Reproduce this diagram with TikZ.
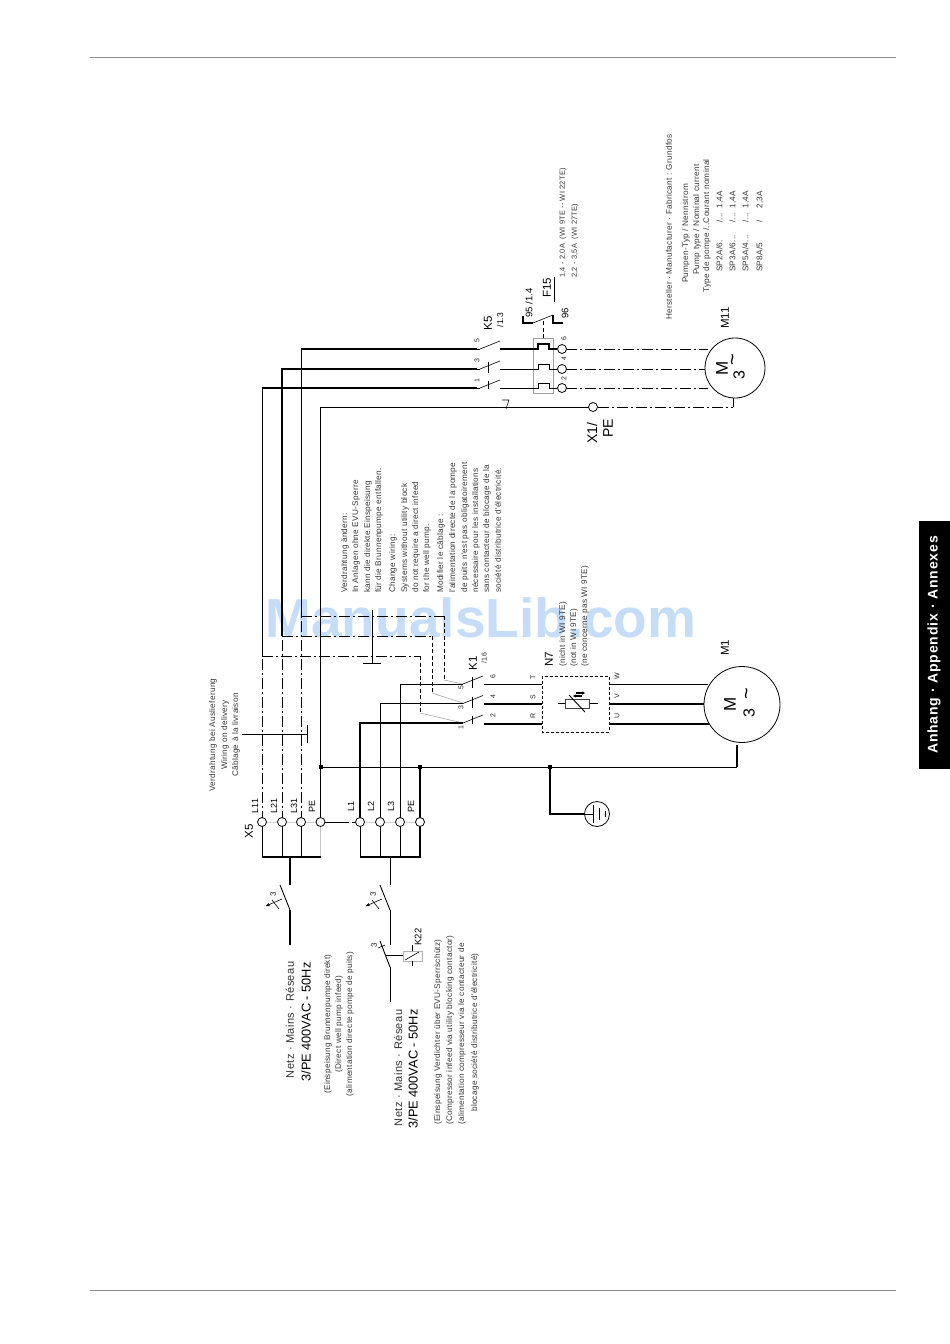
\documentclass[tikz,border=0pt]{standalone}
\usepackage{fontspec}
\setmainfont{Liberation Sans}
\newfontfamily\smf[LetterSpace=3.5]{Liberation Sans}
\newfontfamily\tabf[LetterSpace=6,BoldFont={Liberation Sans Bold}]{Liberation Sans}
\newfontfamily\netf[LetterSpace=4]{Liberation Sans}
\usetikzlibrary{calc,arrows.meta}
\definecolor{txtc}{gray}{0.22}
\definecolor{wm}{RGB}{198,221,248}
\definecolor{rulec}{gray}{0.55}
\tikzset{
  wire/.style={line width=0.9pt,black,line cap=butt},
  heavy/.style={line width=1.7pt,black,line cap=butt},
  fine/.style={line width=0.6pt,black},
  dd/.style={line width=0.8pt,black,dash pattern=on 11pt off 3pt on 2pt off 3pt},
  dsh/.style={line width=0.9pt,black,dash pattern=on 4pt off 2.5pt},
  lead/.style={line width=0.6pt,gray!70},
  term/.style={circle,draw=black,line width=0.8pt,fill=white,minimum size=9pt,inner sep=0pt},
  motor/.style={circle,draw=black,line width=0.8pt,fill=white,inner sep=0pt},
  jn/.style={rectangle,fill=black,minimum size=4.5pt,inner sep=0pt},
  sm/.style={rotate=90,anchor=west,inner sep=0pt,text=txtc,font=\smf\fontsize{8.2}{9}\selectfont},
  fnote/.style={sm,font=\smf\fontsize{7.4}{9}\selectfont},
  smc/.style={rotate=90,anchor=center,inner sep=0pt,text=txtc,font=\smf\fontsize{8.2}{9}\selectfont},
  tiny/.style={rotate=90,anchor=center,inner sep=0pt,text=black!85,font=\fontsize{7}{8}\selectfont},
  lbl/.style={rotate=90,anchor=center,inner sep=0pt,font=\fontsize{11.5}{13}\selectfont},
  big/.style={rotate=90,anchor=center,inner sep=0pt,font=\fontsize{12.8}{15}\selectfont},
  netz/.style={rotate=90,anchor=center,inner sep=0pt,text=black!80,font=\netf\fontsize{11}{13}\selectfont},
  mtxt/.style={rotate=90,anchor=center,inner sep=0pt,font=\fontsize{17}{19}\selectfont},
}
\begin{document}
\begin{tikzpicture}[x=1pt,y=-1pt]
\useasboundingbox (0,0) rectangle (950,1344);
\fill[white] (0,0) rectangle (950,1344);
% page furniture
\draw[rulec,line width=1pt] (90,57) -- (896,57);
\draw[rulec,line width=1pt] (90,1290) -- (896,1290);
\fill[black] (919,521) rectangle (950,769);
\node[rotate=90,anchor=center,inner sep=0pt,text=white,font=\tabf\bfseries\fontsize{14}{16}\selectfont] (tab) at (934,645) {Anhang · Appendix · Annexes};
% watermark
\node[inner sep=0pt,text=wm,font=\bfseries\fontsize{55}{58}\selectfont] (wmk) at (481,618) {ManualsLib.com};

% terminals (coordinates first, circles drawn last)
\foreach \n/\x in {a/262,b/282,c/301,d/320.5,e/360,f/380,g/400,h/420}{
  \coordinate (T\n) at (\x,822);
}
% faint link across terminals
\draw[gray!35,line width=0.7pt] (Ta) -- (Td) (Te) -- (Th);
\draw[gray!45,line width=1.1pt] (Td) -- (320.5,857);
% busbars
\draw[heavy,line width=2.4pt] (261.5,857) -- (321,857);
\draw[heavy,line width=2.4pt] (359.5,857) -- (421,857);
\foreach \n in {a,b,c,e,f,g}{\draw[wire] (T\n) -- ($(T\n)+(0,35)$);}
\draw[heavy] (Th) -- (420,857);
% mains switches
\coordinate (B1) at (290,857);
\coordinate (B2) at (390,857);
\draw[heavy] (B1) -- (290,885);
\draw[wire] (B2) -- (390,885);
\draw[wire] (280,885) -- (290,910);
\draw[wire] (380,885) -- (390,910);
\draw[heavy] (290,910) -- (290,945);
\draw[wire] (390,910) -- (390,945);
\draw[wire] (380,941) -- (390,967);
\draw[wire] (390,967) -- (390,1002);
\foreach \x in {0,100}{
  \begin{scope}[xshift=\x pt]
  \draw[fine,-{Stealth[length=4pt,width=3.5pt]}] (282,899) -- (266,906);
  \draw[fine] (272,900) -- (279,909);
  \node[tiny,font=\fontsize{8}{9}\selectfont] at (273,894) {3};
  \end{scope}
}
\node[tiny,font=\fontsize{8}{9}\selectfont] (s3) at (374,945) {3};
\draw[fine] (378,948) -- (385,945);
\draw[fine] (385,955) -- (403,955);
\node[draw=gray!60,fill=white,line width=0.8pt,minimum width=19pt,minimum height=10pt,inner sep=0pt] (coil) at (412.5,956) {};
\draw[fine] (405,960) -- (419,952);
\draw[fine] (412.5,951) -- (412.5,945);
\draw[fine] (412.5,961) -- (412.5,966);
\node[rotate=90,inner sep=0pt,font=\fontsize{9.5}{11}\selectfont] (k22) at (418,937) {K22};

% supply verticals to K5 / K1
\coordinate (Ka) at (477,388);\coordinate (Kb) at (477,369);\coordinate (Kc) at (477,349);\coordinate (Kd) at (502,407);
\draw[wire] (262,656) -- (262,388);
\draw[heavy] (262,388) -- (Ka);
\draw[heavy] (282,636) -- (282,369) -- (Kb);
\draw[wire] (301,616) -- (301,349);
\draw[heavy] (301,349) -- (Kc);
\draw[wire] (320.5,767) -- (320.5,407) -- (Kd);
% delivery-wiring dash-dot
\draw[dd] (Ta) -- (262,656);
\draw[dd] (Tb) -- (282,636);
\draw[dd] (Tc) -- (301,616);
\draw[dd] (262,656) -- (420,656);
\draw[dd] (282,636) -- (432,636);
\draw[dd] (301,616) -- (444,616);
\draw[dsh] (420,656) -- (420,713);
\draw[dsh] (432,636) -- (432,693);
\draw[dsh] (444,616) -- (444,680);
\draw[lead] (420,713) -- (463,723);
\draw[lead] (432,693) -- (463,703);
\draw[lead] (444,680) -- (463,684);
% T marks
\draw[fine] (372,610) -- (372,663);
\draw[fine] (363,663) -- (381,663);
\draw[fine] (242,734) -- (307,734);
\draw[fine] (307,725) -- (307,743);
% K1 supply
\draw[heavy] (360,822) -- (360,723) -- (463,723);
\draw[wire] (380,822) -- (380,703.5) -- (463,703.5);
\draw[wire] (400,822) -- (400,684) -- (463,684);
\foreach \y in {684,703.5,723}{
  \draw[fine] (463,\y) -- (483,\y-8);
}
\draw[fine] (472,697) -- (472,708);
\draw[fine] (472,677) -- (472,688);
\draw[fine] (472,716) -- (472,724);
% K1 → N7 → M1
\draw[wire] (484,684) -- (542,684);
\draw[heavy] (484,704) -- (542,704);
\draw[heavy] (484,724) -- (542,724);
\draw[wire] (609,684) -- (708,684);
\draw[heavy] (609,704) -- (706,704);
\draw[heavy] (609,724) -- (710,724);
\draw[line width=0.8pt,black,dash pattern=on 3pt off 2pt] (542,676) rectangle (609,732);
% varistor
\draw[fine] (558,703.5) -- (565,703.5);
\draw[fine] (589,703.5) -- (598,703.5);
\draw[line width=0.9pt,black!75,fill=white] (565,699) rectangle (589,708);
\draw[wire] (569,695) -- (585,712);
\draw[line width=1.1pt,-{Stealth[length=3pt,width=3pt]}] (582,696) -- (573,696);
\draw[line width=1.1pt,-{Stealth[length=3pt,width=3pt]}] (576,693) -- (585,693);
% PE bar + earth
\draw[wire] (320.5,767) -- (737,767);
\draw[heavy] (320.5,767) -- (Td);
\draw[heavy] (420,767) -- (Th);
\draw[heavy,line width=1.3pt] (737,767) -- (737,745);
\draw[heavy,line width=1.2pt] (550,767) -- (550,814) -- (585,814);
\node[jn] (j1) at (321,767) {};
\node[jn] (j2) at (420,767) {};
\node[jn] (j3) at (550,767) {};
\node[motor,minimum size=25pt] (gnd) at (597,814) {};
\draw[fine] (585,814) -- (593,814);
\draw[wire] (593,805) -- (593,823);
\draw[wire] (599,808) -- (599,820);
\draw[wire] (605,811) -- (605,817);
% link X5 PE → L1
\draw[fine] (Td) -- (345,822);
\draw[fine,dash pattern=on 4pt off 3pt] (345,822) -- (Te);
% K5 contacts
\foreach \y in {349,369,388}{
  \draw[fine] (480,\y) -- (500,\y-8);
}
\draw[fine] (477,349) -- (480,349) (477,369) -- (480,369) (477,388) -- (480,388);
\draw[fine] (488,362) -- (488,373);
\draw[fine] (488,381) -- (488,389);
\draw[heavy] (500,349) -- (533,349);
\draw[wire] (500,369) -- (533,369);
\draw[wire] (500,388) -- (533,388);
\draw[gray!75,line width=0.9pt] (533,338) rectangle (553,393);
\draw[dsh] (543,338) -- (543,320);
\foreach \y/\w in {349/1.3pt,369/0.9pt,388/0.9pt}{
  \draw[line width=\w,black] (533,\y) -- (538,\y) -- (538,\y-5) -- (549,\y-5) -- (549,\y) -- (557,\y);
  \draw[dd] (566,\y) -- (708,\y);
}
% F15 lever
\draw[wire] (523,323) -- (533,323);
\draw[line width=1.2pt] (523,316) -- (523,323) -- (533,323);
\draw[fine] (533,323) -- (553,315);
\draw[line width=1.2pt] (553,315) -- (553,323) -- (563,323);
\draw[fine] (554,277) -- (554,302);
% PE to X1
\draw[wire] (Kd) -- (589,407);
\draw[fine] (502,400) -- (509,400) -- (506,409);
\draw[dd] (598,407) -- (733,407);
\draw[wire] (733,407) -- (733,398);
% nodes on top
\node[term] (Xpe) at (593,407) {};
\foreach \y in {349,369,388}{\node[term] at (562,\y) {};}
\foreach \n in {a,b,c,d,e,f,g,h}{\node[term] at (T\n) {};}
\node[motor,minimum size=76pt] (M1) at (742,704.5) {};
\node[motor,minimum size=60pt] (M11) at (735,368) {};
% motor text
\node[mtxt] at (730,704) {M};
\node[rotate=90,inner sep=0pt,font=\fontsize{16}{18}\selectfont] at (749,713) {3};
\node[rotate=90,inner sep=0pt,font=\fontsize{20}{20}\selectfont] at (749,694) {\textasciitilde};
\node[mtxt] at (722,368) {M};
\node[rotate=90,inner sep=0pt,font=\fontsize{16}{18}\selectfont] at (739,375) {3};
\node[rotate=90,inner sep=0pt,font=\fontsize{20}{20}\selectfont] at (735,360) {\textasciitilde};
% labels
\node[lbl] at (249,831) {X5};
\foreach \x/\t in {255/L11,274/L21,294/L31,312/PE,351/L1,371/L2,391/L3,411/PE}{
  \node[rotate=90,inner sep=0pt,font=\fontsize{9}{11}\selectfont] at (\x,806) {\t};
}
\node[lbl] at (473,663) {K1};
\node[tiny] at (484,658) {/1.6};
\node[lbl] at (549,659) {N7};
\node[lbl] at (725,648) {M1};
\node[lbl] at (725,318) {M11};
\node[lbl] at (488,323) {K5};
\node[rotate=90,inner sep=0pt,font=\fontsize{8.5}{10}\selectfont] at (500,320) {/1.3};
\node[rotate=90,inner sep=0pt,font=\fontsize{9.5}{11}\selectfont] at (529,303) {95 /1.4};
\node[rotate=90,inner sep=0pt,font=\fontsize{9.5}{11}\selectfont] at (565,313) {96};
\node[lbl] at (547,288) {F15};
\node[rotate=90,anchor=center,inner sep=0pt,font=\fontsize{14}{16}\selectfont] at (592,433) {X1/};
\node[rotate=90,anchor=center,inner sep=0pt,font=\fontsize{14}{16}\selectfont] at (608,428) {PE};
\foreach \x/\y/\t in {477/341/5,477/361/3,477/381/1,461/688/5,461/708/3,461/728/1,493/677/6,493/697/4,493/716/2,533/677/T,533/697/S,533/716/R,617/676/W,617/696/V,617/716/U,564/339/6,564/359/4,564/379/2}{
  \node[tiny] at (\x,\y) {\t};
}
% text blocks
\node[sm] at (669,320) {Hersteller · Manufacturer · Fabricant : Grundfos};
\node[sm] at (686,283) {Pumpen-Typ / Nennstrom};
\node[sm] at (697,275) {Pump type / Nominal current};
\node[sm] at (707,293) {Type de pompe /..Courant nominal};
\node[sm] at (720,272) {\makebox[49pt][l]{SP2A/6.}\makebox[14pt][l]{/...}1,4A};
\node[sm] at (733,272) {\makebox[49pt][l]{SP3A/6...}\makebox[14pt][l]{/...}1,4A};
\node[sm] at (746,272) {\makebox[49pt][l]{SP5A/4...}\makebox[14pt][l]{/...}1,4A};
\node[sm] at (760,272) {\makebox[49pt][l]{SP8A/5}\makebox[14pt][l]{/}2,3A};
\node[fnote] at (563,278) {1,4 - 2,0A \ (WI 9TE -- WI 22TE)};
\node[fnote] at (575,278) {2,2 - 3,5A \ (WI 27TE)};
\foreach \x/\t in {345/{Verdrahtung ändern:},356/{In Anlagen ohne EVU-Sperre},368/{kann die direkte Einspeisung},379/{für die Brunnenpumpe entfallen.},393/{Change wiring:},405/{Systems without utility block},416/{do not require a direct infeed},427/{for the well pump.},441/{Modifier le câblage :},453/{l'alimentation directe de la pompe},465/{de puits n'est pas obligatoirement},476/{nécessaire pour les installations},487/{sans contacteur de blocage de la},498/{société distributrice d'électricité.}}{
  \node[sm] at (\x,593) {\t};
}
\node[sm] at (563,667) {(nicht in WI 9TE)};
\node[sm] at (574,667) {(not in WI 9TE)};
\node[sm] at (585,667) {(ne concerne pas WI 9TE)};
\node[smc] at (213,735) {Verdrahtung bei Auslieferung};
\node[smc] at (225,735) {Wiring on delivery};
\node[smc] at (236,735) {Câblage à la livraison};
\node[netz] at (290,1020) {Netz · Mains · Réseau};
\node[big] at (306,1022) {3/PE 400VAC - 50Hz};
\node[smc] at (328,1024) {(Einspeisung Brunnenpumpe direkt)};
\node[smc] at (339,1024) {(Direct well pump infeed)};
\node[smc] at (350,1024) {(alimentation directe pompe de puits)};
\node[netz] at (398,1068) {Netz · Mains · Réseau};
\node[big] at (413,1069) {3/PE 400VAC - 50Hz};
\node[sm] at (438,1125) {(Einspeisung Verdichter über EVU-Sperrschütz)};
\node[sm] at (450,1125) {(Compressor infeed via utility blocking contactor)};
\node[sm] at (462,1125) {(alimentation compresseur via le contacteur de};
\node[sm] at (475,1112) {blocage société distributrice d'électricité)};
\end{tikzpicture}
\end{document}
